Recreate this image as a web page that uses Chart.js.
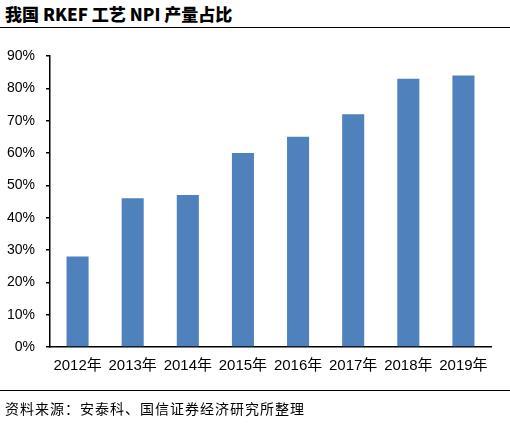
<!DOCTYPE html>
<html>
<head>
<meta charset="utf-8">
<script src="https://cdn.jsdelivr.net/npm/chart.js@4.4.0/dist/chart.umd.min.js"></script>
<style>
  body { margin: 0; background: #fff; }
  #wrap { position: relative; width: 510px; height: 424px; overflow: hidden; }
  #title {
    position: absolute; left: 5px; top: 1px;
    font-family: "Noto Sans CJK SC", sans-serif; font-weight: 900;
    font-size: 17px; color: #000; white-space: nowrap;
  }
  .rule { position: absolute; left: 0; width: 510px; height: 1.5px; background: #000; }
  #source {
    position: absolute; left: 5px; top: 398px;
    font-family: "Noto Sans CJK SC", sans-serif; font-size: 14px;
    letter-spacing: 1px; color: #000; white-space: nowrap;
  }
  canvas { position: absolute; left: 0; top: 0; }
</style>
</head>
<body>
<div id="wrap">
  <div id="title">我国 RKEF 工艺 NPI 产量占比</div>
  <div class="rule" style="top:26.5px"></div>
  <canvas id="myChart" width="510" height="424"></canvas>
  <div class="rule" style="top:389.5px"></div>
  <div id="source">资料来源：安泰科、国信证券经济研究所整理</div>
</div>
<script>
const years = ['2012年', '2013年', '2014年', '2015年', '2016年', '2017年', '2018年', '2019年'];
const rkefShare = [28, 46, 47, 60, 65, 72, 83, 84];
const yTicks = [0, 10, 20, 30, 40, 50, 60, 70, 80, 90];

const ctx = document.getElementById('myChart').getContext('2d');
const myChart = new Chart(ctx, {
    type: 'bar',
    data: {
        labels: years,
        datasets: [
            {
                label: 'RKEF 工艺 NPI 产量占比',
                data: rkefShare,
                backgroundColor: '#4F81BD',
                borderWidth: 0,
                categoryPercentage: 1,
                barPercentage: 0.4,
            },
        ],
    },
    options: {
        responsive: false,
        devicePixelRatio: 1,
        animation: false,
        layout: {
            padding: { top: 56, right: 19, bottom: 0, left: 0 },
        },
        plugins: {
            legend: { display: false },
            tooltip: { enabled: false },
        },
        scales: {
            x: {
                grid: { display: true, drawOnChartArea: false, drawTicks: false },
                border: { display: true, color: '#000', width: 1.5 },
                ticks: {
                    color: '#000',
                    padding: 10,
                    maxRotation: 0,
                    font: { family: '"Liberation Sans", "Noto Sans CJK SC", sans-serif', size: 15 },
                },
                afterFit: function (scale) { scale.height = 77; },
            },
            y: {
                min: 0,
                max: 90,
                afterBuildTicks: function (scale) {
                    scale.ticks = yTicks.map(v => ({ value: v }));
                },
                grid: { display: true, drawOnChartArea: false, drawTicks: true, tickLength: 4, color: '#000', lineWidth: 1.5 },
                border: { display: true, color: '#000', width: 1.5 },
                ticks: {
                    color: '#000',
                    padding: 11,
                    callback: v => v + '%',
                    font: { family: '"Liberation Sans", sans-serif', size: 14 },
                },
                afterFit: function (scale) { scale.width = 50; },
            },
        },
    },
});
</script>
</body>
</html>
